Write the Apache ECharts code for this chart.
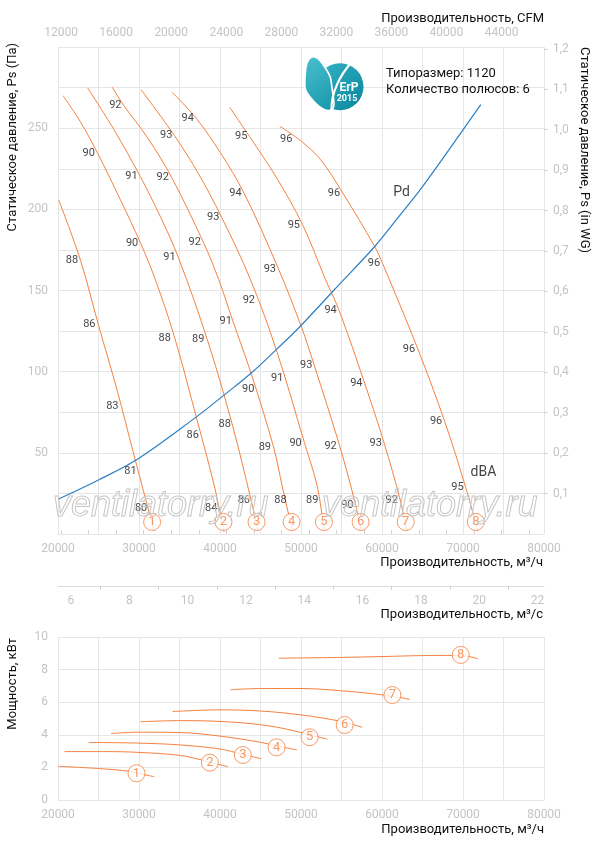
<!DOCTYPE html>
<html>
<head>
<meta charset="utf-8">
<script src="https://cdn.jsdelivr.net/npm/echarts@6/dist/echarts.min.js"></script>
<style>
html,body{margin:0;padding:0;background:#fff;}
#chart{width:597px;height:850px;}
</style>
</head>
<body>
<div id="chart"></div>
<script>
// ---------- data ----------
const curve1 = [[20074,205.9],[22756,169.0],[24981,129.0],[27329,88.0],[29307,50.0],[30790,22.0],[31841,2.0]];
const curve2 = [[20618,270.0],[22756,254.0],[24857,234.9],[27700,205.9],[30172,179.4],[32026,156.6],[34412,120.8],[37101,71.5],[39326,29.0],[40468,1.4]];
const curve3 = [[23659,274.8],[26835,249.7],[30172,220.1],[32644,195.4],[34869,170.2],[38416,120.0],[41506,67.6],[43830,21.0],[44700,1.8]];
const curve4 = [[26674,275.4],[28133,263.9],[31068,244.0],[34004,219.9],[37959,179.6],[39850,156.6],[41600,131.0],[43900,98.0],[46611,53.6],[47700,29.0],[48950,1.8]];
const curve5 = [[30259,273.7],[34375,245.4],[37280,222.5],[40184,195.3],[43768,156.6],[46982,113.0],[50443,55.9],[52012,29.2],[52853,1.8]];
const curve6 = [[34090,272.1],[37094,255.9],[40030,235.0],[42965,210.0],[47229,163.2],[50035,127.8],[51617,104.2],[54769,54.3],[56747,17.9],[57427,1.8]];
const curve7 = [[41210,262.8],[43644,244.8],[46920,220.0],[50195,190.5],[53038,156.6],[54707,137.7],[57858,92.9],[60269,55.9],[62246,21.0],[63049,1.8]];
const curve8 = [[47390,251.1],[49948,242.3],[52420,230.6],[55139,210.2],[59095,177.1],[60083,166.5],[64410,114.1],[67747,69.2],[70343,28.5],[71826,1.8]];
const pdCurve = [[20000,21.4],[25000,33.3],[30000,46.7],[37050,72],[40615,86],[43893,99.3],[46885,113.3],[49918,128],[54139,150.6],[59101,177.1],[62000,195],[65000,214],[69724,247],[72196,264.5]];

const noiseLabels = [
  [27082,263.9,'92'],[36019,255.9,'94'],[33349,245.6,'93'],[42619,244.8,'95'],[48181,242.9,'96'],
  [23782,234.7,'90'],[29060,220.3,'91'],[32929,219.9,'92'],[41915,210.0,'94'],[39158,195.3,'93'],
  [49120,190.5,'95'],[29146,179.2,'90'],[36884,179.6,'92'],[21730,168.9,'88'],[33757,170.3,'91'],
  [46154,163.2,'93'],[54064,210.0,'96'],[58998,166.5,'96'],[43558,144.3,'92'],[23869,129.3,'86'],
  [40715,131.3,'91'],[33176,120.7,'88'],[37304,120.0,'89'],[53656,137.7,'94'],[47068,96.0,'91'],
  [43484,89.4,'90'],[26711,78.5,'83'],[63334,114.1,'96'],[50653,104.2,'93'],[56833,92.9,'94'],
  [40592,67.6,'88'],[36637,60.6,'86'],[66682,69.2,'96'],[45536,53.5,'89'],[49330,55.9,'90'],
  [53656,54.3,'92'],[59218,55.9,'93'],[28936,38.4,'81'],[69316,28.5,'95'],[30259,15.6,'80'],
  [38911,15.6,'84'],[42940,21.0,'86'],[47476,21.0,'88'],[51394,20.5,'89'],[61196,21.0,'92'],
  [55721,17.9,'90']
];
const annotations = [[62431,210.4,'Pd'],[72530,38.0,'dBA']];
const circlesMain = [[31620,7.4,'1'],[40430,7.4,'2'],[44510,7.4,'3'],[48840,7.4,'4'],[52830,7.4,'5'],[57360,7.4,'6'],[62930,7.4,'7'],[71580,7.4,'8']];

const power1 = [[20000,2.07],[25000,1.93],[28800,1.76],[30700,1.55],[31900,1.43]];
const power2 = [[20800,2.97],[26000,2.97],[30000,2.92],[35000,2.74],[37800,2.45],[39650,2.2],[41000,2.05]];
const power3 = [[23800,3.53],[30000,3.49],[35000,3.38],[40000,3.13],[42800,2.8],[45100,2.53]];
const power4 = [[26550,4.08],[30000,4.16],[35000,4.14],[40000,3.92],[45000,3.54],[47000,3.32],[49500,3.07]];
const power5 = [[30170,4.8],[35000,4.87],[40000,4.82],[45000,4.62],[48700,4.3],[51000,4.0],[53250,3.74]];
const power6 = [[34150,5.43],[40000,5.53],[45000,5.46],[50000,5.22],[55000,4.82],[57550,4.46]];
const power7 = [[41300,6.76],[45000,6.84],[50000,6.84],[55000,6.7],[60000,6.45],[63450,6.18]];
const power8 = [[47250,8.7],[55000,8.75],[60000,8.8],[65000,8.86],[69000,8.87],[70750,8.8],[71900,8.65]];
const circlesPower = [[29690,1.64,'1'],[38740,2.29,'2'],[42820,2.76,'3'],[46980,3.23,'4'],[51060,3.85,'5'],[55390,4.6,'6'],[61280,6.44,'7'],[69720,8.9,'8']];

const cfmTicks = [12000,14000,16000,18000,20000,22000,24000,26000,28000,30000,32000,34000,36000,38000,40000,42000,44000,46000];
const cfmLabels = [12000,16000,20000,24000,28000,32000,36000,40000,44000];
const m3sTicks = [7,9,11,13,15,17,19,21];
const m3sLabels = [6,8,10,12,14,16,18,20,22];
const wgLabels = [0.1,0.2,0.3,0.4,0.5,0.6,0.7,0.8,0.9,1.0,1.1,1.2];

const fanCurves = [curve1,curve2,curve3,curve4,curve5,curve6,curve7,curve8];
const powerCurves = [power1,power2,power3,power4,power5,power6,power7,power8];

// ---------- styles ----------
const ORANGE = '#f5813f';
const BLUE = '#2b7fc4';
const GRID = '#e6e6e6';
const LABEL = '#c4c4c4';
const TXT = '#111';
const FONT = 'Roboto';
const FLOW_MIN = 20000, FLOW_MAX = 80000;
const CFM = 0.588578;
const PA_PER_WG = 249.089;

const chart = echarts.init(document.getElementById('chart'), null, {renderer:'canvas'});

const series = [];
fanCurves.forEach((c,i)=>{
  series.push({type:'line', name:'fan'+(i+1), xAxisIndex:0, yAxisIndex:0, data:c, smooth:0.35,
    symbol:'none', lineStyle:{color:ORANGE, width:1}, silent:true, z:2});
});
series.push({type:'line', name:'Pd', xAxisIndex:0, yAxisIndex:0, data:pdCurve, smooth:0.35,
  symbol:'none', lineStyle:{color:BLUE, width:1.2}, silent:true, z:2});
series.push({type:'scatter', xAxisIndex:0, yAxisIndex:0, data:noiseLabels, symbolSize:1,
  itemStyle:{color:'rgba(0,0,0,0)'}, silent:true, z:4,
  label:{show:true, position:'inside', formatter:p=>p.data[2], color:TXT, fontSize:11, fontFamily:FONT}});
series.push({type:'scatter', xAxisIndex:0, yAxisIndex:0, data:annotations, symbolSize:1,
  itemStyle:{color:'rgba(0,0,0,0)'}, silent:true, z:4,
  label:{show:true, position:'inside', formatter:p=>p.data[2], color:TXT, fontSize:14, fontFamily:FONT}});
series.push({type:'scatter', xAxisIndex:0, yAxisIndex:0, data:circlesMain, symbol:'circle', symbolSize:17,
  itemStyle:{color:'#fff', borderColor:ORANGE, borderWidth:1}, silent:true, z:5,
  label:{show:true, position:'inside', formatter:p=>p.data[2], color:ORANGE, fontSize:13, fontFamily:FONT}});
powerCurves.forEach((c,i)=>{
  series.push({type:'line', name:'power'+(i+1), xAxisIndex:3, yAxisIndex:2, data:c, smooth:0.35,
    symbol:'none', lineStyle:{color:ORANGE, width:1}, silent:true, z:2});
});
series.push({type:'scatter', xAxisIndex:3, yAxisIndex:2, data:circlesPower, symbol:'circle', symbolSize:17,
  itemStyle:{color:'#fff', borderColor:ORANGE, borderWidth:1}, silent:true, z:5,
  label:{show:true, position:'inside', formatter:p=>p.data[2], color:ORANGE, fontSize:13, fontFamily:FONT}});

const axisLbl = {color:LABEL, fontSize:12, fontFamily:FONT};
const flowAxis = (grid)=>({
  type:'value', gridIndex:grid, min:FLOW_MIN, max:FLOW_MAX, interval:5000,
  axisLine:{show:true, lineStyle:{color:GRID}}, axisTick:{show:false},
  splitLine:{show:true, lineStyle:{color:GRID, width:1}},
  axisLabel:Object.assign({}, axisLbl, {margin:9, formatter:v=> v%10000===0 ? String(v) : ''})
});

const titleText = (x,y,text,opts)=>Object.assign({
  type:'text', x:x, y:y, z:20, silent:true,
  style:Object.assign({text:text, fill:TXT, font:'13px '+FONT, textAlign:'right', textVerticalAlign:'middle'}, opts && opts.style || {})
}, opts && opts.el || {});

const option = {
  animation:false,
  backgroundColor:'#fff',
  textStyle:{fontFamily:FONT},
  grid:[
    {left:58, right:53, top:47, height:487},
    {left:58, right:53, top:637, height:163}
  ],
  xAxis:[
    flowAxis(0),
    {type:'value', gridIndex:0, position:'top', min:FLOW_MIN*CFM, max:FLOW_MAX*CFM,
      axisLine:{show:false}, splitLine:{show:false},
      axisTick:{show:true, customValues:cfmTicks, length:4, lineStyle:{color:'#d2d2d2'}},
      axisLabel:Object.assign({}, axisLbl, {customValues:cfmLabels, margin:8, formatter:v=>String(Math.round(v))})},
    {type:'value', gridIndex:0, position:'bottom', offset:52, min:FLOW_MIN/3600, max:FLOW_MAX/3600,
      axisLine:{show:true, lineStyle:{color:'#dcdcdc'}}, splitLine:{show:false},
      axisTick:{show:true, customValues:m3sTicks, length:4, lineStyle:{color:'#d2d2d2'}},
      axisLabel:Object.assign({}, axisLbl, {customValues:m3sLabels, margin:9, formatter:v=>String(Math.round(v))})},
    flowAxis(1)
  ],
  yAxis:[
    {type:'value', gridIndex:0, min:0, max:300, interval:25,
      axisLine:{show:false}, axisTick:{show:false},
      splitLine:{show:true, lineStyle:{color:GRID, width:1}},
      axisLabel:Object.assign({}, axisLbl, {margin:10, formatter:v=> (v%50===0 && v>0 && v<300) ? String(v) : ''})},
    {type:'value', gridIndex:0, position:'right', min:0, max:300/PA_PER_WG,
      axisLine:{show:false}, splitLine:{show:false},
      axisTick:{show:true, customValues:wgLabels, length:4, lineStyle:{color:'#d2d2d2'}},
      axisLabel:Object.assign({}, axisLbl, {customValues:wgLabels, margin:9, formatter:v=>Number(v).toFixed(1).replace('.',',')})},
    {type:'value', gridIndex:1, min:0, max:10, interval:2,
      axisLine:{show:false}, axisTick:{show:false},
      splitLine:{show:true, lineStyle:{color:GRID, width:1}},
      axisLabel:Object.assign({}, axisLbl, {margin:10})}
  ],
  series:series,
  graphic:[
    // watermark
    {type:'text', x:53, y:506, z:30, silent:true,
      style:{text:'ventilatorry.ru', font:'italic 36px "Liberation Sans"', fill:'rgba(255,255,255,0)', stroke:'#c6c6c6', lineWidth:1, textAlign:'left', textVerticalAlign:'middle'}},
    {type:'text', x:322, y:506, z:30, silent:true,
      style:{text:'ventilatorry.ru', font:'italic 36px "Liberation Sans"', fill:'rgba(255,255,255,0)', stroke:'#c6c6c6', lineWidth:1, textAlign:'left', textVerticalAlign:'middle'}},
    // axis titles
    titleText(544,19,'Производительность, CFM'),
    titleText(543,563,'Производительность, м³/ч'),
    titleText(543,615,'Производительность, м³/с'),
    titleText(544,830,'Производительность, м³/ч'),
    titleText(13,43,'Статическое давление, Ps (Па)', {el:{rotation:Math.PI/2}}),
    titleText(584,47,'Статическое давление, Ps (in WG)', {el:{rotation:-Math.PI/2}, style:{textAlign:'left'}}),
    titleText(13,638,'Мощность, кВт', {el:{rotation:Math.PI/2}}),
    // info
    titleText(386,74,'Типоразмер: 1120', {style:{textAlign:'left'}}),
    titleText(386,90,'Количество полюсов: 6', {style:{textAlign:'left'}}),
    // logo
    {type:'circle', z:15, silent:true, shape:{cx:340, cy:86.7, r:23.5},
      style:{fill:new echarts.graphic.LinearGradient(0,0,1,1,[{offset:0,color:'#35b3c6'},{offset:1,color:'#0b879c'}])}},
    {type:'polygon', z:16, silent:true,
      shape:{points:[[312,57],[305,78],[310,97],[331,110],[332,88],[326,69]], smooth:0.5},
      style:{fill:new echarts.graphic.LinearGradient(0,0,1,1,[{offset:0,color:'#4cc0cf'},{offset:1,color:'#1596aa'}]), stroke:'#fff', lineWidth:1.6}},
    {type:'bezierCurve', z:17, silent:true,
      shape:{x1:351, y1:63, cpx1:341, cpy1:74, cpx2:331, cpy2:92, x2:331.5, y2:110},
      style:{fill:'none', stroke:'#fff', lineWidth:2.2}},
    {type:'text', x:349, y:88, z:18, silent:true,
      style:{text:'ErP', fill:'#fff', font:'bold 12px '+FONT, textAlign:'center', textVerticalAlign:'middle'}},
    {type:'text', x:347, y:98.5, z:18, silent:true,
      style:{text:'2015', fill:'#fff', font:'bold 9px '+FONT, textAlign:'center', textVerticalAlign:'middle'}}
  ]
};
chart.setOption(option);
</script>
</body>
</html>
